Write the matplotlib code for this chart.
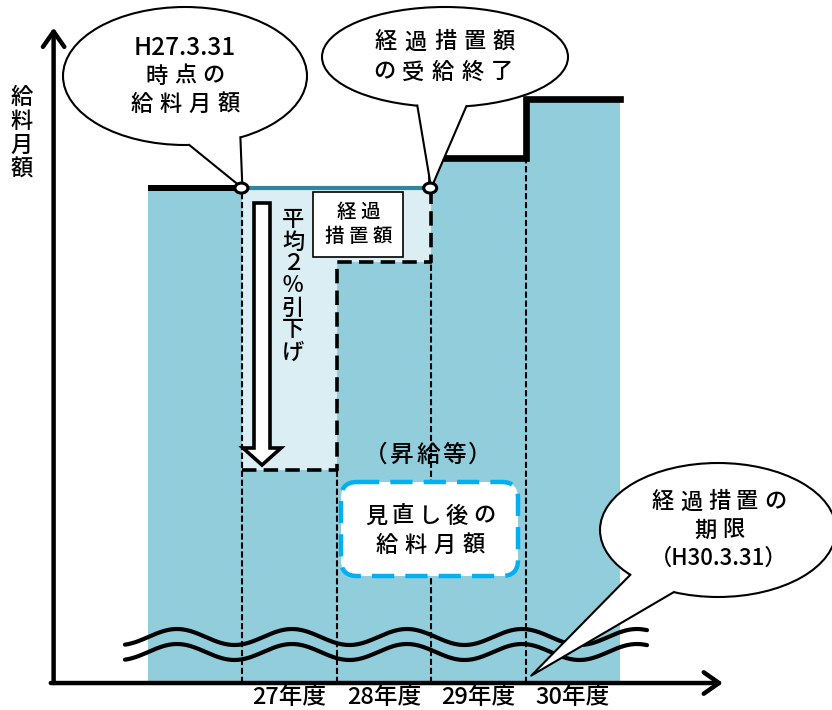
import matplotlib.pyplot as plt
import numpy as np
from matplotlib import patches, transforms

plt.rcParams["font.family"] = ["Noto Sans CJK JP", "DejaVu Sans"]

FILL = "#92CDDC"
LIGHT = "#DAEEF3"
TEAL = "#31859C"
CYAN = "#00B0F0"

# fiscal-year columns (left edge), schematic salary levels (pre-revision salary = 100)
col_start = [26, 27, 28, 29, 30]
salary_level = [100, 43, 85, 106, 118]       # monthly salary after the revision
protected_level = [100, 100, 100, 106, 118]  # incl. transitional allowance
label_years = [27, 28, 29, 30]
year_labels = ["27年度", "28年度", "29年度", "30年度"]
axis_x0 = 25
TXT = dict(fontweight="medium")


def spread(x, y, s, pitch, size):
    # one character at a time, to get the wide letter spacing of the original
    n = len(s)
    for i, ch in enumerate(s):
        ax.text(x + (i - (n - 1) / 2) * pitch, y, ch, transform=pix, fontsize=size,
                ha="center", va="center", zorder=10, **TXT)


def to_pix(x, y):
    return pix.inverted().transform(ax.transData.transform((x, y)))


def callout(cx, cy, a, b, t1, t2, tip):
    ax.add_patch(patches.Ellipse((cx, cy), 2 * a, 2 * b, transform=pix, fc="white",
                                 ec="black", lw=1.5, zorder=6))
    t1, t2 = np.radians(t1), np.radians(t2)
    p1 = (cx + a * np.cos(t1), cy + b * np.sin(t1))
    p2 = (cx + a * np.cos(t2), cy + b * np.sin(t2))
    q1 = (cx + 0.8 * a * np.cos(t1), cy + 0.8 * b * np.sin(t1))
    q2 = (cx + 0.8 * a * np.cos(t2), cy + 0.8 * b * np.sin(t2))
    ax.add_patch(patches.Polygon([q1, p1, tip, p2, q2], closed=True, transform=pix,
                                 fc="white", ec="none", zorder=7))
    ax.plot([p1[0], tip[0], p2[0]], [p1[1], tip[1], p2[1]], transform=pix,
            color="black", lw=1.5, zorder=8)


fig = plt.figure(figsize=(8.32, 7.10), dpi=100)
ax = fig.add_axes([0, 0, 1, 1])
ax.set_xlim(24.432, 33.246)
ax.set_ylim(-5.45, 138.0)
ax.axis("off")
pix = transforms.Affine2D().scale(1 / 832, -1 / 710).translate(0, 1) + fig.transFigure

# salary columns and transitional allowance
ax.bar(col_start, salary_level, width=1, align="edge", color=FILL, lw=0, zorder=1)
extra = [p - s for p, s in zip(protected_level, salary_level)]
ax.bar(col_start, extra, bottom=salary_level, width=1, align="edge", color=LIGHT, lw=0, zorder=1)

# thin dashed year dividers
thin_top = [protected_level[0], salary_level[1], salary_level[2], salary_level[3]]
for x, top in zip(label_years, thin_top):
    ax.plot([x, x], [0, top], color="black", lw=1.5, ls=(0, (3, 1.3)), zorder=2)

# revised salary outline for 27/28
cut_x = [col_start[1], col_start[2], col_start[2], col_start[3], col_start[3]]
cut_y = [salary_level[1], salary_level[1], salary_level[2], salary_level[2], protected_level[2]]
ax.plot(cut_x, cut_y, color="black", lw=2.6, ls=(0, (4, 2)), zorder=3)

# salary outline
ax.plot(col_start[:2], [protected_level[0]] * 2, color="black", lw=4.3,
        solid_capstyle="butt", zorder=4)
ax.plot([col_start[1], col_start[3]], [protected_level[1]] * 2, color=TEAL, lw=3,
        solid_capstyle="butt", zorder=4)
rise_x = [col_start[3], col_start[3], col_start[4], col_start[4], col_start[4] + 1]
rise_y = [protected_level[2], salary_level[3], salary_level[3], salary_level[4], salary_level[4]]
ax.plot(rise_x, rise_y, color="black", lw=4.8, solid_joinstyle="miter", zorder=4)

# axes arrows
for tip, tail in [((axis_x0, 132.4), (axis_x0, 0)), ((32.09, 0), (axis_x0 - 0.03, 0))]:
    ax.annotate("", xy=tip, xytext=tail,
                arrowprops=dict(arrowstyle="->,head_length=0.5,head_width=0.35", lw=3.2,
                                color="black", shrinkA=0, shrinkB=0, mutation_scale=22),
                zorder=5)

# wavy break marks
wx = np.linspace(125, 647, 300)
wy = 637 - 8 * np.cos(2 * np.pi * (wx - 177) / 115)
ax.plot(wx, wy, transform=pix, color="black", lw=3, solid_capstyle="round", zorder=5)
ax.plot(wx, wy + 15, transform=pix, color="black", lw=3, solid_capstyle="round", zorder=5)

# hollow down arrow
ax.add_patch(patches.FancyArrow(262, 203, 0, 262, width=16, head_width=38, head_length=17,
                                length_includes_head=True, transform=pix, fc="white",
                                ec="black", lw=2.6, zorder=6))
for i, ch in enumerate("平均２％引下げ"):
    ax.text(293, 220 + i * 22, ch, transform=pix, fontsize=16, ha="center",
            va="center", zorder=10, **TXT)

# allowance box
ax.add_patch(patches.Rectangle((313, 192), 90, 65, transform=pix, fc="white", ec="black",
                               lw=1.2, zorder=6))
spread(358, 212, "経過", 24, 14)
spread(358, 236, "措置額", 24, 14)

# revised salary box
spread(428, 455, "（昇給等）", 26, 17)
ax.add_patch(patches.FancyBboxPatch((341, 482), 177, 94, boxstyle="round,pad=0,rounding_size=16",
                                    transform=pix, fc="white", ec=CYAN, lw=3.2,
                                    ls=(0, (5, 2.5)), zorder=6))
spread(430, 516, "見直し後の", 27, 16)
spread(430, 545, "給料月額", 29, 16)

# callouts
callout(185, 76, 122, 69, 88, 63, to_pix(col_start[1], protected_level[0]))
ax.text(185, 48, "H27.3.31", transform=pix, fontsize=17.5, ha="center", va="center",
        zorder=10, **TXT)
spread(185, 76, "時点の", 28, 16)
spread(185, 104, "給料月額", 29, 16)

callout(445, 57, 123, 50, 103, 80, to_pix(col_start[3], protected_level[2]))
spread(445, 42, "経過措置額", 29.5, 16)
spread(443, 72, "の受給終了", 29.5, 16)

callout(718, 530, 118, 67, 138, 112, to_pix(label_years[-1] + 0.06, 1.5))
spread(719, 502, "経過措置の", 28, 16)
spread(719, 530, "期限", 28, 16)
ax.text(719, 558, "（H30.3.31）", transform=pix, fontsize=16, ha="center", va="center",
        zorder=10, **TXT)

# transition points
for x in (col_start[1], col_start[3]):
    cx, cy = to_pix(x, protected_level[0])
    ax.add_patch(patches.Ellipse((cx - 1, cy), 13, 10, transform=pix, fc="white",
                                 ec="black", lw=2.2, zorder=9))

# axis labels
for i, ch in enumerate("給料月額"):
    ax.text(22, 97 + i * 24, ch, transform=pix, fontsize=16, ha="center", va="center", **TXT)
for x, lab in zip(label_years, year_labels):
    ax.text(x + 0.5, -3, lab, fontsize=17, ha="center", va="center", **TXT)

fig.savefig("out.png", dpi=100)
